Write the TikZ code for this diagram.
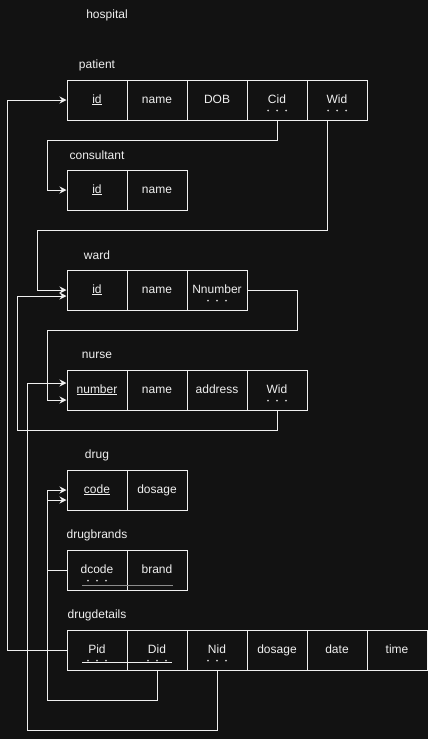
\documentclass[tikz,border=0pt]{standalone}
\usepackage{fontspec}
\setmainfont{Liberation Sans}
\usetikzlibrary{arrows.meta}
\definecolor{bg}{HTML}{121212}
\definecolor{fg}{HTML}{F0F0F0}
\newcommand{\fkdots}[1]{%
  \foreach \dx in {-9,0,9}{\fill[fg!85!bg] ([xshift=\dx pt,yshift=-10.5pt]#1.center) circle (1pt);}}
\begin{document}
\begin{tikzpicture}[x=1pt,y=-1pt,
  cell/.style={draw=fg, line width=1pt, minimum width=60pt, minimum height=40pt, inner sep=0pt,
    text=fg, font=\fontsize{12}{14}\selectfont, text height=8.6pt, text depth=2.6pt},
  lbl/.style={text=fg, font=\fontsize{12}{14}\selectfont, inner sep=0pt},
  link/.style={draw=fg, line width=1pt},
  arr/.style={link, -{Stealth[length=7pt,width=7pt]}}]
\fill[bg] (0,0) rectangle (428,739);
\useasboundingbox (0,0) rectangle (428,739);

\node[lbl] (title) at (107,15) {hospital};

% patient
\node[lbl] (lPat) at (97,65) {patient};
\node[cell] (pId) at (97,100) {\underline{id}};
\node[cell] (pName) at (157,100) {name};
\node[cell] (pDob) at (217,100) {DOB};
\node[cell] (pCid) at (277,100) {Cid};
\node[cell] (pWid) at (337,100) {Wid};
\fkdots{pCid}\fkdots{pWid}

% consultant
\node[lbl] (lCon) at (97,155) {consultant};
\node[cell] (cId) at (97,190) {\underline{id}};
\node[cell] (cName) at (157,190) {name};

% ward
\node[lbl] (lWard) at (97,255) {ward};
\node[cell] (wId) at (97,290) {\underline{id}};
\node[cell] (wName) at (157,290) {name};
\node[cell] (wNn) at (217,290) {Nnumber};
\fkdots{wNn}

% nurse
\node[lbl] (lNur) at (97,355) {nurse};
\node[cell] (nNum) at (97,390) {\underline{number}};
\node[cell] (nName) at (157,390) {name};
\node[cell] (nAddr) at (217,390) {address};
\node[cell] (nWid) at (277,390) {Wid};
\fkdots{nWid}

% drug
\node[lbl] (lDrug) at (97,455) {drug};
\node[cell] (dCode) at (97,490) {\underline{code}};
\node[cell] (dDos) at (157,490) {dosage};

% drugbrands
\node[lbl] (lDb) at (97,535) {drugbrands};
\node[cell] (dbCode) at (97,570) {dcode};
\node[cell] (dbBrand) at (157,570) {brand};
\fkdots{dbCode}
\draw[line width=1pt, fg!55!bg] ([xshift=-15pt,yshift=-15pt]dbCode.center) -- ([xshift=16pt,yshift=-15pt]dbBrand.center);

% drugdetails
\node[lbl] (lDd) at (97,615) {drugdetails};
\node[cell] (ddPid) at (97,650) {Pid};
\node[cell] (ddDid) at (157,650) {Did};
\node[cell] (ddNid) at (217,650) {Nid};
\node[cell] (ddDos) at (277,650) {dosage};
\node[cell] (ddDate) at (337,650) {date};
\node[cell] (ddTime) at (397,650) {time};
\fkdots{ddPid}\fkdots{ddDid}\fkdots{ddNid}
\draw[line width=1pt, fg] ([xshift=-15pt,yshift=-12pt]ddPid.center) -- ([xshift=15pt,yshift=-12pt]ddDid.center);

% connectors
\draw[arr] (pCid.south) |- (47,140) |- (cId.west);
\draw[arr] ([xshift=-10pt]pWid.south) |- (37,230) |- (wId.west);
\draw[arr] (wNn.east) -| (297,330) -| (47,400) -- ([yshift=-10pt]nNum.west);
\draw[arr] (nWid.south) |- (17,430) |- ([yshift=-6pt]wId.west);
\draw[arr] (ddPid.west) -- (7,650) |- (pId.west);
\draw[arr] (ddNid.south) |- (27,730) |- ([yshift=7pt]nNum.west);
\draw[arr] (ddDid.south) |- (47,700) |- ([yshift=-10pt]dCode.west);
\draw[arr] (dbCode.west) -- (47,570) |- (dCode.west);
\end{tikzpicture}
\end{document}
